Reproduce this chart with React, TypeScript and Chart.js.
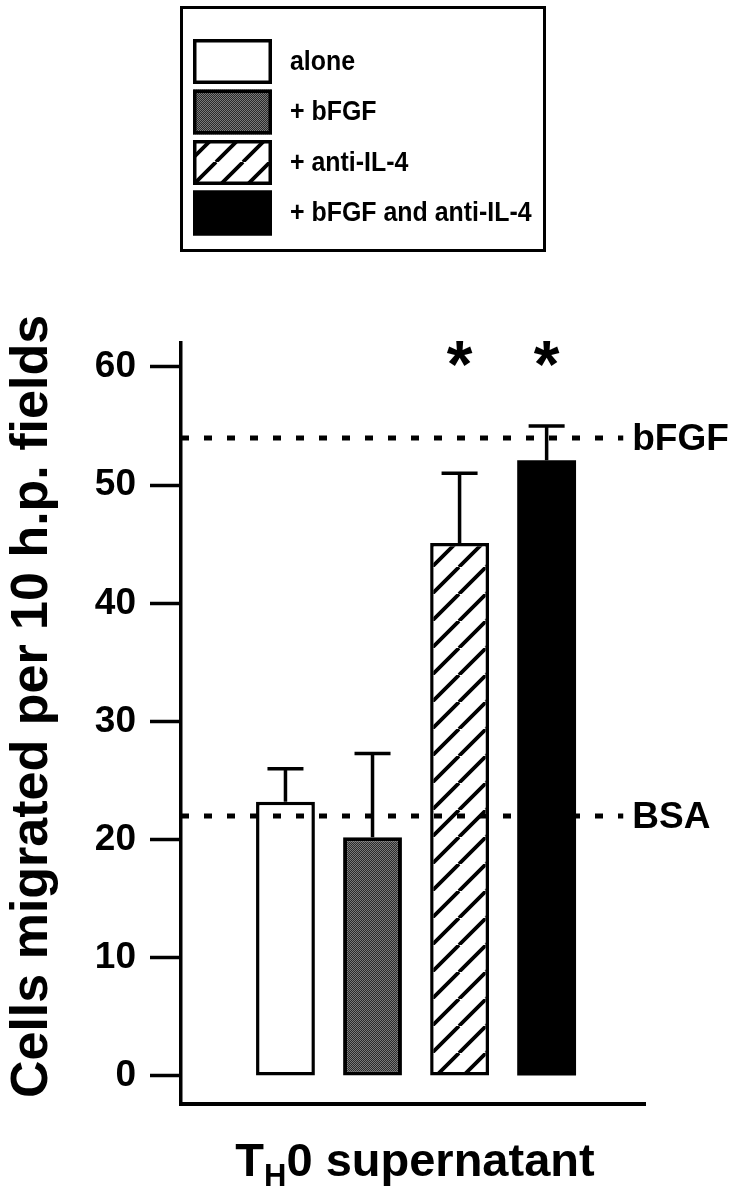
import React, { useEffect, useRef } from 'react';
import { Chart, registerables } from 'chart.js';

Chart.register(...registerables);

// ---------- data ----------
const CATEGORIES = ['alone', '+ bFGF', '+ anti-IL-4', '+ bFGF and anti-IL-4'];
const X_POS = [1, 2, 3, 4];
const MEANS = [23.2, 20.2, 45.1, 52.1];
const ERRORS = [2.8, 7.1, 5.9, 2.9];
const SIGNIFICANT = [false, false, true, true];
const Y_TICKS = [0, 10, 20, 30, 40, 50, 60];
const REF_NAMES = ['bFGF', 'BSA'];
const REF_VALUES = [54, 22];
const Y_TITLE = 'Cells migrated per 10 h.p. fields';
const X_TITLE_MAIN = 'T';
const X_TITLE_SUB = 'H';
const X_TITLE_REST = '0 supernatant';

// axis ranges
const X_MIN = -0.2;
const X_MAX = 5.13;
const REF_END = 4.88;
const Y_MIN = -2.37;
const Y_MAX = 62.03;
const STAR_BASE = 58.3;

const FONT = '"Liberation Sans", Arial, Helvetica, sans-serif';

function makeStipple(): CanvasPattern | string {
  const c = document.createElement('canvas');
  c.width = 2;
  c.height = 2;
  const g = c.getContext('2d');
  if (!g) return '#555';
  g.fillStyle = '#2a2a2a';
  g.fillRect(0, 0, 2, 2);
  g.fillStyle = '#7a7a7a';
  g.fillRect(0, 0, 1, 1);
  g.fillRect(1, 1, 1, 1);
  return g.createPattern(c, 'repeat') || '#555';
}

function makeHatch(): CanvasPattern | string {
  const s = 27;
  const c = document.createElement('canvas');
  c.width = s;
  c.height = s;
  const g = c.getContext('2d');
  if (!g) return '#fff';
  g.fillStyle = '#fff';
  g.fillRect(0, 0, s, s);
  g.strokeStyle = '#000';
  g.lineWidth = 3.8;
  g.beginPath();
  for (const k of [-s, 0, s]) {
    g.moveTo(k, s);
    g.lineTo(k + s, 0);
  }
  g.stroke();
  return g.createPattern(c, 'repeat') || '#fff';
}

export default function App() {
  const ref = useRef<HTMLCanvasElement | null>(null);

  useEffect(() => {
    const canvas = ref.current;
    if (!canvas) return;
    const fills = ['#ffffff', makeStipple(), makeHatch(), '#000000'];

    const overlay = {
      id: 'overlay',
      afterDatasetsDraw(chart: any) {
        const { ctx, scales } = chart;
        const x = scales.x;
        const y = scales.y;
        ctx.save();
        // error bars
        ctx.strokeStyle = '#000';
        ctx.lineWidth = 3.5;
        MEANS.forEach((m, i) => {
          const px = x.getPixelForValue(X_POS[i]);
          const y0 = y.getPixelForValue(m);
          const y1 = y.getPixelForValue(m + ERRORS[i]);
          ctx.beginPath();
          ctx.moveTo(px, y0);
          ctx.lineTo(px, y1);
          ctx.moveTo(px - 18, y1);
          ctx.lineTo(px + 18, y1);
          ctx.stroke();
        });
        // asterisks
        ctx.fillStyle = '#000';
        ctx.font = `bold 66px ${FONT}`;
        ctx.textAlign = 'center';
        ctx.textBaseline = 'alphabetic';
        SIGNIFICANT.forEach((s, i) => {
          if (!s) return;
          ctx.fillText('*', x.getPixelForValue(X_POS[i]), y.getPixelForValue(STAR_BASE));
        });
        // reference labels
        ctx.font = `bold 37px ${FONT}`;
        ctx.textAlign = 'left';
        ctx.textBaseline = 'middle';
        REF_NAMES.forEach((n, i) => {
          ctx.fillText(n, x.getPixelForValue(REF_END) + 9, y.getPixelForValue(REF_VALUES[i]) + 2);
        });
        ctx.restore();
      },
      afterDraw(chart: any) {
        const { ctx, chartArea } = chart;
        ctx.save();
        // y title
        ctx.fillStyle = '#000';
        ctx.font = `bold 52px ${FONT}`;
        ctx.textAlign = 'center';
        ctx.textBaseline = 'middle';
        ctx.translate(33, (chartArea.top + chartArea.bottom) / 2 - 17);
        ctx.rotate(-Math.PI / 2);
        ctx.fillText(Y_TITLE, 0, 0);
        ctx.restore();

        // x title with subscript
        ctx.save();
        ctx.fillStyle = '#000';
        ctx.textBaseline = 'alphabetic';
        ctx.textAlign = 'left';
        const big = `bold 47px ${FONT}`;
        const small = `bold 31px ${FONT}`;
        ctx.font = big;
        const wT = ctx.measureText(X_TITLE_MAIN).width;
        const wR = ctx.measureText(X_TITLE_REST).width;
        ctx.font = small;
        const wH = ctx.measureText(X_TITLE_SUB).width;
        const total = wT + wH + wR;
        const cx = 415;
        const base = 1176;
        let xx = cx - total / 2;
        ctx.font = big;
        ctx.fillText(X_TITLE_MAIN, xx, base);
        xx += wT;
        ctx.font = small;
        ctx.fillText(X_TITLE_SUB, xx, base + 10);
        xx += wH;
        ctx.font = big;
        ctx.fillText(X_TITLE_REST, xx, base);
        ctx.restore();

        // legend
        ctx.save();
        ctx.strokeStyle = '#000';
        ctx.lineWidth = 3;
        ctx.strokeRect(181.5, 7.5, 363, 243);
        CATEGORIES.forEach((c, i) => {
          const top = 39 + i * 50.5;
          ctx.fillStyle = fills[i] as any;
          ctx.fillRect(193, top, 79, 45);
          ctx.lineWidth = 3.5;
          ctx.strokeRect(194.75, top + 1.75, 75.5, 41.5);
          // slightly condensed bold label
          ctx.save();
          ctx.fillStyle = '#000';
          ctx.font = `bold 28px ${FONT}`;
          ctx.textAlign = 'left';
          ctx.textBaseline = 'middle';
          ctx.translate(290, top + 23);
          ctx.scale(0.89, 1);
          ctx.fillText(c, 0, 0);
          ctx.restore();
        });
        ctx.restore();
      },
    };

    const chart = new Chart(canvas, {
      type: 'bar',
      data: {
        datasets: [
          {
            type: 'bar',
            label: 'TH0 supernatant',
            data: X_POS.map((xv, i) => ({ x: xv, y: MEANS[i] })),
            backgroundColor: fills as any,
            borderColor: '#000',
            borderWidth: [3.5, 4, 3.5, 0],
            borderSkipped: false,
            barPercentage: 0.676,
            categoryPercentage: 1,
            order: 2,
          } as any,
          ...REF_VALUES.map((v, i) => ({
            type: 'line',
            label: REF_NAMES[i],
            data: [
              { x: X_MIN, y: v },
              { x: REF_END, y: v },
            ],
            borderColor: '#000',
            borderWidth: 5,
            borderDash: [8, 15],
            pointRadius: 0,
            fill: false,
            order: 1,
          })) as any,
        ],
      },
      options: {
        responsive: false,
        animation: false,
        layout: { padding: { top: 343, right: 94, left: 0, bottom: 0 } },
        plugins: {
          legend: { display: false },
          tooltip: { enabled: false },
        },
        scales: {
          x: {
            type: 'linear',
            min: X_MIN,
            max: X_MAX,
            offset: false,
            grid: { display: false },
            ticks: { display: false },
            border: { display: true, color: '#000', width: 4 },
            afterFit: (s: any) => {
              s.height = 95;
            },
          },
          y: {
            type: 'linear',
            min: Y_MIN,
            max: Y_MAX,
            afterBuildTicks: (s: any) => {
              s.ticks = Y_TICKS.map((v) => ({ value: v }));
            },
            grid: {
              display: true,
              drawOnChartArea: false,
              drawTicks: true,
              tickLength: 31,
              tickWidth: 3.5,
              tickColor: '#000',
            },
            border: { display: true, color: '#000', width: 3.5 },
            ticks: {
              color: '#000',
              font: { family: FONT, size: 37, weight: 'bold' },
              padding: 14,
            },
            afterFit: (s: any) => {
              s.width = 181;
            },
          },
        },
      } as any,
      plugins: [overlay],
    });

    return () => chart.destroy();
  }, []);

  return (
    <div style={{ position: 'absolute', left: 0, top: 0, width: 739, height: 1199, background: '#fff' }}>
      <canvas ref={ref} width={739} height={1199} style={{ display: 'block' }} />
    </div>
  );
}
